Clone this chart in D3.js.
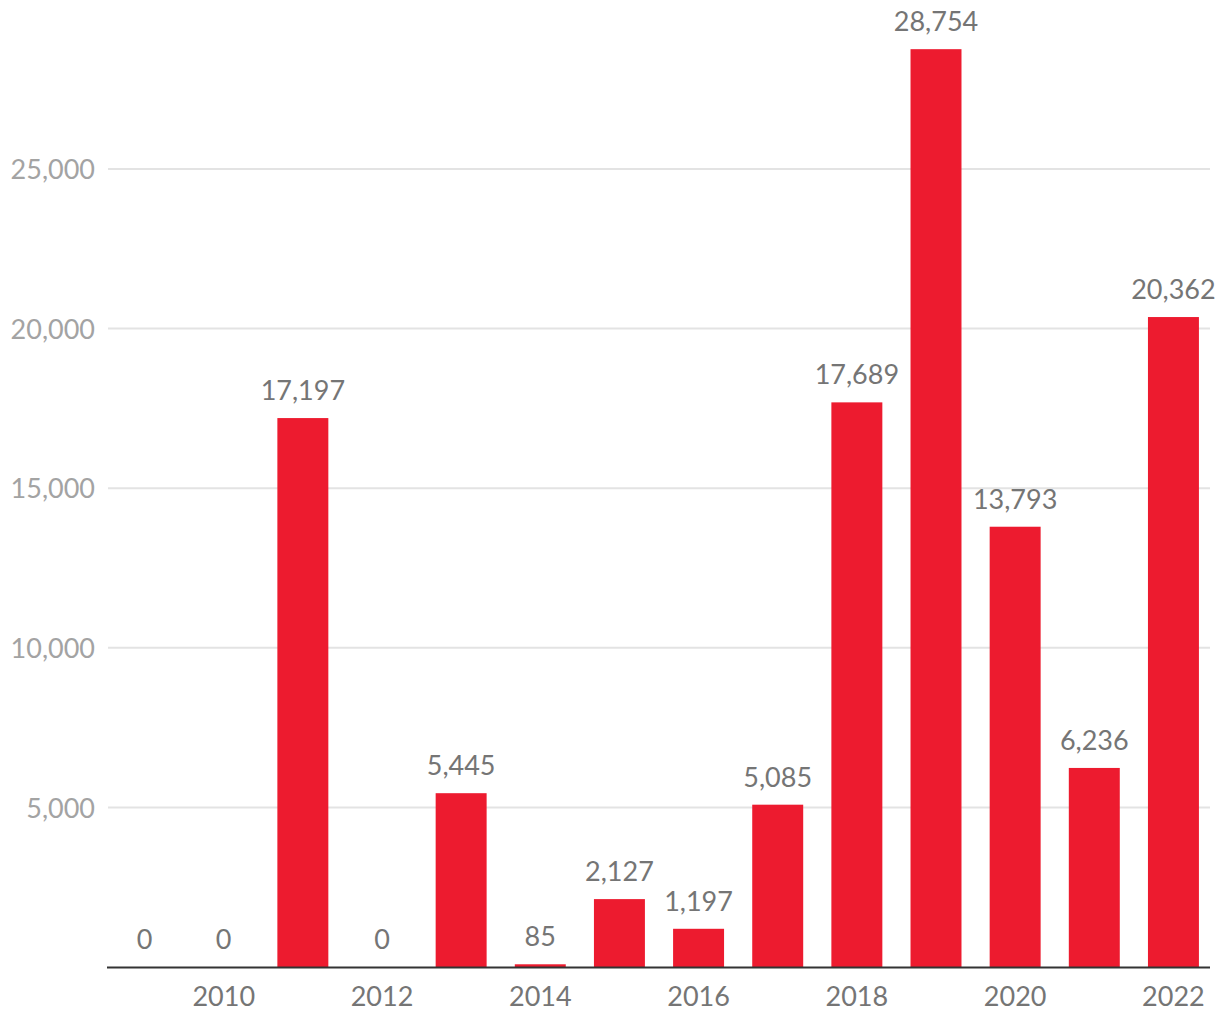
<!DOCTYPE html>
<html><head><meta charset="utf-8">
<script src="https://cdn.jsdelivr.net/npm/d3@7"></script>
<style>body{margin:0;background:#fff;} svg{display:block;}</style>
</head><body>
<script>
const years = [2009,2010,2011,2012,2013,2014,2015,2016,2017,2018,2019,2020,2021,2022];
const values = [0,0,17197,0,5445,85,2127,1197,5085,17689,28754,13793,6236,20362];
const yTicks = [5000,10000,15000,20000,25000];
const xTickYears = [2010,2012,2014,2016,2018,2020,2022];

const W=1220,H=1020;
const svg=d3.select("body").append("svg").attr("width",W).attr("height",H);
const font="Lato, 'Open Sans', sans-serif";
const x=d3.scaleBand().domain(years).range([108,1210]).paddingInner(0.356).paddingOuter(0.14);
const y=d3.scaleLinear().domain([0,25000]).range([967,169]);

const yAxis=d3.axisLeft(y).tickValues(yTicks).tickSize(0).tickFormat(d3.format(","));
const gy=svg.append("g").attr("transform","translate(108,0)").call(yAxis);
gy.select(".domain").remove();
gy.selectAll("text").attr("x",-13).attr("dy","0.36em").style("font-family",font).style("font-size","27px").attr("fill","#a3a3a3");
svg.append("g").selectAll("line").data(yTicks).join("line")
  .attr("x1",108).attr("x2",1210).attr("y1",d=>y(d)).attr("y2",d=>y(d))
  .attr("stroke","#e3e3e3").attr("stroke-width",2);

svg.append("g").selectAll("rect").data(years).join("rect")
  .attr("x",d=>x(d)).attr("width",x.bandwidth())
  .attr("y",(d,i)=>y(values[i])).attr("height",(d,i)=>y(0)-y(values[i]))
  .attr("fill","#ED1B2F");

svg.append("g").selectAll("text").data(years).join("text")
  .attr("x",d=>x(d)+x.bandwidth()/2).attr("y",(d,i)=>y(values[i])-18)
  .attr("text-anchor","middle").style("font-family",font).style("font-size","27px").attr("fill","#757575")
  .text((d,i)=>d3.format(",")(values[i]));

const xAxis=d3.axisBottom(x).tickValues(xTickYears).tickSize(0).tickFormat(d=>d);
const gx=svg.append("g").attr("transform","translate(0,967)").call(xAxis);
gx.select(".domain").remove();
gx.selectAll("text").attr("y",20).attr("dy","0.71em").style("font-family",font).style("font-size","27px").attr("fill","#757575");
svg.append("line").attr("x1",107).attr("x2",1210).attr("y1",967.5).attr("y2",967.5).attr("stroke","#333").attr("stroke-width",2);
</script>
</body></html>
